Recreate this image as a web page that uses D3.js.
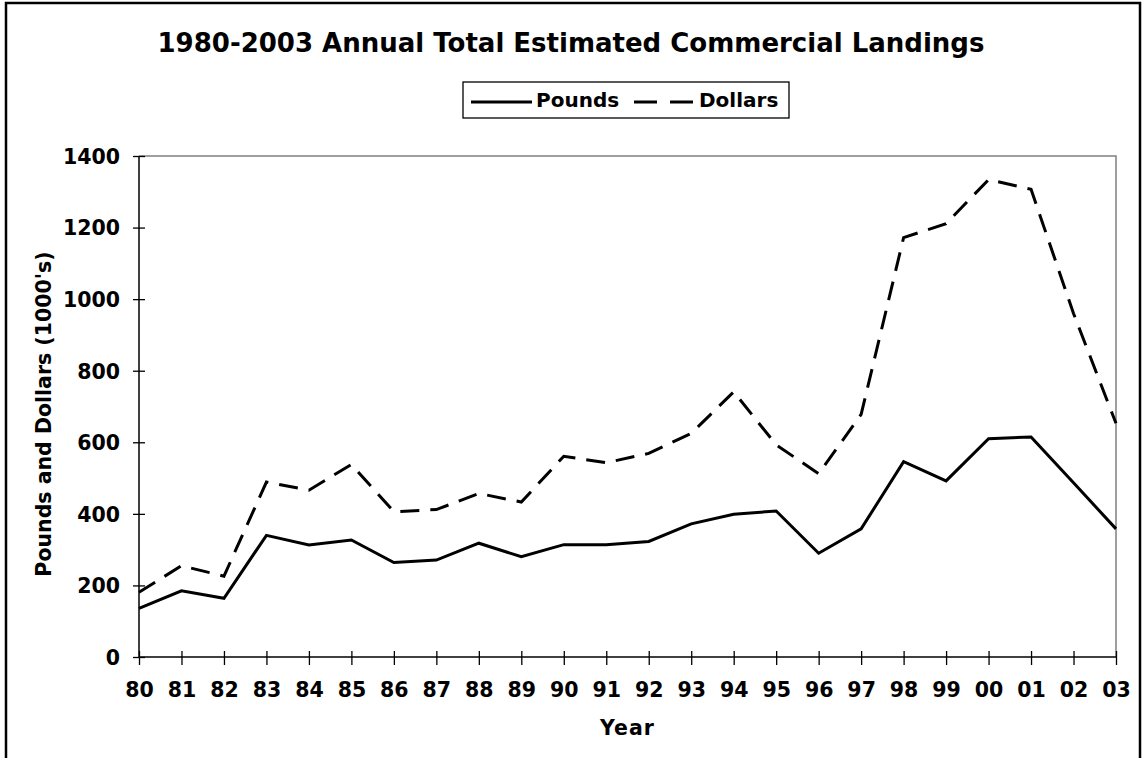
<!doctype html>
<html>
  <head>
    <meta charset="utf-8">
    <title>1980-2003 Annual Total Estimated Commercial Landings</title>
    <script src="https://cdnjs.cloudflare.com/ajax/libs/d3/7.8.5/d3.min.js"></script>
    <style>
      body { margin: 0; background: #fff; }
      text { font-family: "DejaVu Sans", Verdana, sans-serif; font-weight: bold; fill: #000; }
    </style>
  </head>
  <body>
    <div id="chart"></div>

    <script>
      // data (1000's)
      const years = ['80','81','82','83','84','85','86','87','88','89','90','91',
                     '92','93','94','95','96','97','98','99','00','01','02','03'];
      const pounds = [136,185,164,340,313,327,264,271,318,280,314,314,
                      323,372,399,408,290,358,546,492,610,615,487,358];
      const dollars = [181,255,226,489,466,538,406,412,457,433,561,543,
                       569,625,741,593,512,678,1172,1211,1334,1307,960,653];
      const yTicks = [0,200,400,600,800,1000,1200,1400];

      const width = 1143, height = 758;
      const plotLeft = 139, plotRight = 1116, plotTop = 156, plotBottom = 657;

      const svg = d3.select('#chart')
        .append('svg')
        .attr('width', width)
        .attr('height', height);

      // outer frame
      svg.append('rect')
        .attr('x', 6).attr('y', 3)
        .attr('width', 1134).attr('height', 800)
        .attr('fill', 'none')
        .attr('stroke', '#000')
        .attr('stroke-width', 2.5);

      // scales
      const x = d3.scalePoint().domain(years).range([plotLeft, plotRight]);
      const y = d3.scaleLinear().domain([0, 1400]).range([plotBottom, plotTop]);

      // plot area border (top and right in grey)
      svg.append('path')
        .attr('d', `M${plotLeft},${plotTop}H${plotRight}V${plotBottom}`)
        .attr('fill', 'none')
        .attr('stroke', '#808080')
        .attr('stroke-width', 1.5);

      // y axis
      const yAxis = svg.append('g')
        .attr('transform', `translate(${plotLeft},0)`)
        .call(d3.axisLeft(y).tickValues(yTicks).tickFormat(d3.format('d')).tickSize(6));
      yAxis.selectAll('.tick line').attr('x2', 6).attr('x1', -6);
      yAxis.selectAll('.tick text')
        .attr('x', -19)
        .attr('dy', '0.36em')
        .style('font-size', '20.5px');

      // x axis
      const xAxis = svg.append('g')
        .attr('transform', `translate(0,${plotBottom})`)
        .call(d3.axisBottom(x).tickSize(6));
      xAxis.selectAll('.tick line').attr('y1', -6).attr('y2', 8);
      xAxis.selectAll('.tick text')
        .attr('y', 25)
        .attr('dy', '0.71em')
        .style('font-size', '20.5px');

      svg.selectAll('.domain').attr('stroke', '#000').attr('stroke-width', 1.5);
      svg.selectAll('.tick line').attr('stroke', '#000').attr('stroke-width', 1.3);
      // no outer ticks on the domain paths
      yAxis.select('.domain').attr('d', `M0,${plotTop}V${plotBottom}`);
      xAxis.select('.domain').attr('d', `M${plotLeft},0H${plotRight}`);

      // lines
      const line = d3.line()
        .x((d, i) => x(years[i]))
        .y(d => y(d));

      svg.append('path')
        .datum(pounds)
        .attr('d', line)
        .attr('fill', 'none')
        .attr('stroke', '#000')
        .attr('stroke-width', 3);

      svg.append('path')
        .datum(dollars)
        .attr('d', line)
        .attr('fill', 'none')
        .attr('stroke', '#000')
        .attr('stroke-width', 3)
        .attr('stroke-dasharray', '19,11');

      // title
      svg.append('text')
        .attr('x', 571).attr('y', 52)
        .attr('text-anchor', 'middle')
        .style('font-size', '26px')
        .text('1980-2003 Annual Total Estimated Commercial Landings');

      // axis titles
      svg.append('text')
        .attr('x', (plotLeft + plotRight) / 2).attr('y', 735)
        .attr('text-anchor', 'middle')
        .style('font-size', '20.5px')
        .style('letter-spacing', '1px')
        .text('Year');

      svg.append('text')
        .attr('transform', 'translate(51,414) rotate(-90)')
        .attr('text-anchor', 'middle')
        .style('font-size', '20.5px')
        .text("Pounds and Dollars (1000's)");

      // legend
      const legend = svg.append('g');
      legend.append('rect')
        .attr('x', 463).attr('y', 82)
        .attr('width', 326).attr('height', 36)
        .attr('fill', '#fff')
        .attr('stroke', '#000')
        .attr('stroke-width', 1.3);
      legend.append('line')
        .attr('x1', 471).attr('x2', 532).attr('y1', 102).attr('y2', 102)
        .attr('stroke', '#000').attr('stroke-width', 3);
      legend.append('text')
        .attr('x', 536).attr('y', 107)
        .style('font-size', '20px')
        .text('Pounds');
      legend.append('line')
        .attr('x1', 634).attr('x2', 693).attr('y1', 102).attr('y2', 102)
        .attr('stroke', '#000').attr('stroke-width', 3)
        .attr('stroke-dasharray', '23,13');
      legend.append('text')
        .attr('x', 699).attr('y', 107)
        .style('font-size', '20px')
        .text('Dollars');
    </script>
  </body>
</html>
